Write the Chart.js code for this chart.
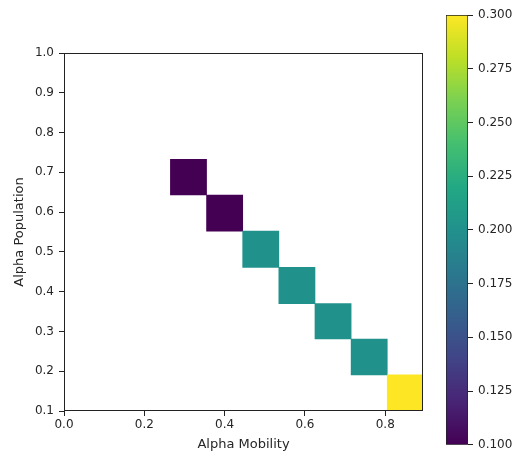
<!DOCTYPE html>
<html>
<head>
<meta charset="utf-8">
<script src="https://cdn.jsdelivr.net/npm/chart.js@4.4.1/dist/chart.umd.min.js"></script>
<style>
  body { margin: 0; background: #fff; }
  #wrap { position: relative; width: 515px; height: 457px; }
  #heatmap { position: absolute; left: 0; top: 0; }
  #colorbar { position: absolute; left: 440px; top: 0; }
</style>
</head>
<body>
<div id="wrap">
  <canvas id="heatmap" width="440" height="457"></canvas>
  <canvas id="colorbar" width="75" height="457"></canvas>
</div>
<script>
// Cell data (one cell per row)
const alphaMobility = [0.31, 0.40, 0.49, 0.58, 0.67, 0.76, 0.85];
const popLow  = [0.643, 0.552, 0.461, 0.370, 0.281, 0.191, 0.100];
const popHigh = [0.733, 0.643, 0.552, 0.461, 0.370, 0.281, 0.191];
const cellValues = [0.1, 0.1, 0.2, 0.2, 0.2, 0.2, 0.3];

// Axis ticks
const xTicks = [0.0, 0.2, 0.4, 0.6, 0.8];
const yTicks = [0.1, 0.2, 0.3, 0.4, 0.5, 0.6, 0.7, 0.8, 0.9, 1.0];
const cbarTicks = [0.100, 0.125, 0.150, 0.175, 0.200, 0.225, 0.250, 0.275, 0.300];

// Colormap (viridis) and its range
const viridis = ['#440154', '#482475', '#414487', '#355f8d', '#2a788e', '#21918c',
                 '#22a884', '#44bf70', '#7ad151', '#bddf26', '#fde725'];
const vMin = 0.1, vMax = 0.3;

const textColor = '#262626';
const lineColor = '#222';

function hexToRgb(h) {
  return [1, 3, 5].map(i => parseInt(h.slice(i, i + 2), 16));
}

function colorFor(v) {
  let t = (v - vMin) / (vMax - vMin);
  t = Math.min(1, Math.max(0, t)) * (viridis.length - 1);
  const i = Math.min(viridis.length - 2, Math.floor(t));
  const f = t - i;
  const a = hexToRgb(viridis[i]), b = hexToRgb(viridis[i + 1]);
  const c = a.map((x, k) => Math.round(x + (b[k] - x) * f));
  return `rgb(${c[0]}, ${c[1]}, ${c[2]})`;
}

// Box around the plot area like matplotlib spines
const framePlugin = {
  id: 'frame',
  afterDatasetsDraw(chart) {
    const { ctx, chartArea: a } = chart;
    ctx.save();
    ctx.strokeStyle = lineColor;
    ctx.lineWidth = 1;
    ctx.strokeRect(a.left + 0.5, a.top + 0.5, a.right - a.left - 1, a.bottom - a.top - 1);
    ctx.restore();
  }
};

Chart.defaults.font.family = "'DejaVu Sans', sans-serif";
Chart.defaults.color = textColor;

new Chart(document.getElementById('heatmap').getContext('2d'), {
  type: 'bar',
  data: {
    datasets: [{
      data: alphaMobility.map((x, i) => ({ x, y: [popLow[i], popHigh[i]] })),
      backgroundColor: cellValues.map(colorFor),
      borderWidth: 0,
      borderSkipped: false,
      barPercentage: 1,
      categoryPercentage: 1
    }]
  },
  options: {
    responsive: false,
    animation: false,
    devicePixelRatio: 1,
    layout: { padding: { top: 53, right: 17, bottom: 0, left: 0 } },
    plugins: { legend: { display: false }, tooltip: { enabled: false } },
    scales: {
      x: {
        type: 'linear',
        offset: false,
        min: 0,
        max: 0.894,
        afterBuildTicks: axis => { axis.ticks = xTicks.map(value => ({ value })); },
        afterFit: axis => { axis.height = 46; },
        ticks: { font: { size: 12 }, padding: 2, maxRotation: 0, callback: v => v.toFixed(1) },
        grid: { offset: false, drawOnChartArea: false, tickLength: 5, tickColor: lineColor },
        border: { display: false },
        title: { display: true, text: 'Alpha Mobility', font: { size: 13 }, padding: { top: 0, bottom: 5 } }
      },
      y: {
        type: 'linear',
        min: 0.1,
        max: 1.0,
        afterBuildTicks: axis => { axis.ticks = yTicks.map(value => ({ value })); },
        afterFit: axis => { axis.width = 64; },
        ticks: { font: { size: 12 }, padding: 5, callback: v => v.toFixed(1) },
        grid: { drawOnChartArea: false, tickLength: 5, tickColor: lineColor },
        border: { display: false },
        title: { display: true, text: 'Alpha Population', font: { size: 13 }, padding: { top: 12, bottom: 0 } }
      }
    }
  },
  plugins: [framePlugin]
});

// Colorbar
new Chart(document.getElementById('colorbar').getContext('2d'), {
  type: 'bar',
  data: {
    labels: [''],
    datasets: [{
      data: [[vMin, vMax]],
      backgroundColor: ctx => {
        const area = ctx.chart.chartArea;
        if (!area) return viridis[0];
        const g = ctx.chart.ctx.createLinearGradient(0, area.bottom, 0, area.top);
        viridis.forEach((c, i) => g.addColorStop(i / (viridis.length - 1), c));
        return g;
      },
      borderColor: lineColor,
      borderWidth: 1,
      borderSkipped: false,
      barPercentage: 1,
      categoryPercentage: 1
    }]
  },
  options: {
    responsive: false,
    animation: false,
    devicePixelRatio: 1,
    layout: { padding: { top: 15, right: 0, bottom: 6, left: 6 } },
    plugins: { legend: { display: false }, tooltip: { enabled: false } },
    scales: {
      x: { display: false },
      y: {
        position: 'right',
        min: vMin,
        max: vMax,
        afterBuildTicks: axis => { axis.ticks = cbarTicks.map(value => ({ value })); },
        afterFit: axis => { axis.width = 47; },
        ticks: { font: { size: 12 }, padding: 5, callback: v => v.toFixed(3) },
        grid: { drawOnChartArea: false, tickLength: 5, tickColor: lineColor },
        border: { display: false }
      }
    }
  }
});
</script>
</body>
</html>
